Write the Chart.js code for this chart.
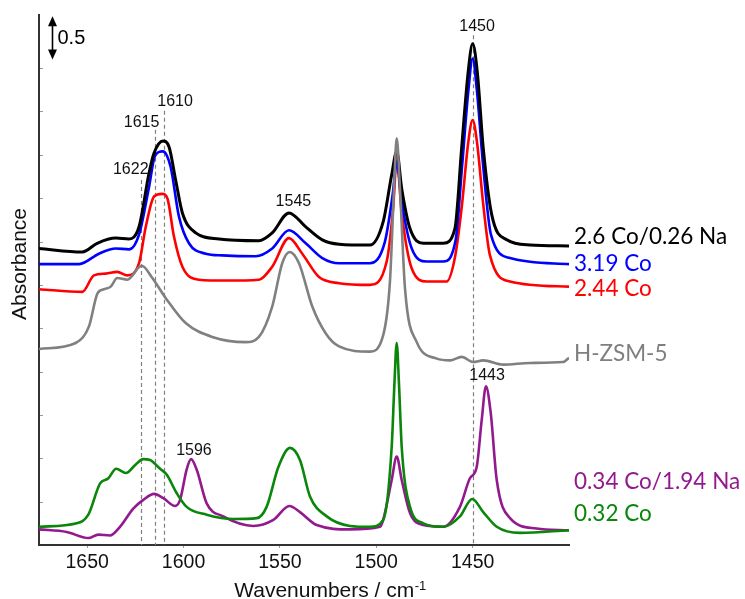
<!DOCTYPE html>
<html><head><meta charset="utf-8">
<script src="https://cdn.jsdelivr.net/npm/chart.js@4/dist/chart.umd.min.js"></script>
<style>html,body{margin:0;padding:0;background:#fff;}#wrap{position:relative;width:745px;height:599px;}</style>
</head><body><div id="wrap"><canvas id="c" width="745" height="599"></canvas></div>
<script>
// ---- data (wavenumber / cm-1, stacked absorbance) ----
const wnBlack = [1675,1652.5,1644.8,1635.2,1628.3,1623.1,1617.9,1615.3,1610.7,1607.5,1604.1,1600.6,1593.7,1581.6,1560.9,1554,1545.3,1536.6,1528,1519.3,1503.3,1496.4,1492,1489.4,1486.8,1482.5,1475.6,1465.2,1459.2,1455.7,1452.3,1450,1447.6,1444.5,1440.1,1432.3,1420.2,1400];
const absBlack = [3.42,3.38,3.48,3.54,3.53,3.67,4.29,4.52,4.66,4.59,4.21,3.83,3.60,3.53,3.51,3.60,3.83,3.67,3.52,3.47,3.46,3.73,4.27,4.54,4.11,3.65,3.48,3.48,3.65,4.58,5.46,5.78,5.46,4.58,3.81,3.52,3.46,3.45];

const wnBlue = [1675,1654.2,1643.9,1635.2,1628.3,1623.1,1617.9,1614.8,1610.7,1606.7,1602.4,1597.2,1588.5,1579.9,1562.6,1554,1545.3,1536.6,1528,1519.3,1503.3,1495.5,1491.5,1489.4,1486.8,1481.6,1473.8,1465.2,1458.8,1455.5,1452.3,1450,1447.7,1444.5,1440.5,1430.6,1400];
const absBlue = [3.24,3.24,3.36,3.42,3.41,3.58,4.13,4.49,4.54,4.36,3.79,3.48,3.36,3.34,3.33,3.42,3.63,3.48,3.31,3.25,3.25,3.50,4.04,4.42,3.96,3.42,3.27,3.27,3.52,4.36,5.22,5.61,5.22,4.36,3.58,3.31,3.24];

const wnRed = [1675,1652.5,1646.5,1640.4,1634.4,1629.2,1623.1,1619.6,1615.3,1611,1608.4,1605,1600.6,1592,1578.1,1560.9,1554,1545.3,1538.4,1529.7,1519.3,1503.3,1494.6,1491.2,1489.4,1486.8,1481.6,1473.8,1463.5,1459,1455.5,1452.3,1450,1447.7,1444.5,1441,1430.6,1400];
const absRed = [2.95,2.92,3.11,3.13,3.15,3.11,3.25,3.67,4.02,4.05,4.00,3.56,3.21,3.06,3.05,3.06,3.21,3.54,3.36,3.09,3.02,3.00,3.27,3.90,4.46,3.83,3.19,3.04,3.04,3.34,3.93,4.64,4.90,4.64,3.93,3.34,3.04,2.98];

const wnGray = [1675,1656,1649.1,1644.7,1641.3,1637.8,1634.4,1629.2,1621.7,1616.2,1609.3,1598.9,1585.1,1567.8,1560.9,1554,1548.8,1544.9,1540.1,1533.2,1526.2,1519.3,1503.3,1496.4,1492.9,1490.8,1489.4,1487.7,1485.1,1479,1468.6,1461.7,1455.7,1449.7,1444.5,1434.1,1420.2,1403.1,1400];
const absGray = [2.26,2.33,2.52,2.90,2.95,2.98,3.08,3.06,3.22,3.08,2.85,2.56,2.40,2.34,2.40,2.75,3.25,3.38,3.25,2.75,2.44,2.29,2.23,2.42,3.04,4.11,4.69,4.11,2.96,2.34,2.15,2.13,2.17,2.11,2.13,2.08,2.10,2.11,2.16];

const wnPurple = [1675,1660.6,1649.4,1644.2,1638.2,1633,1626.1,1620.9,1615.3,1610.5,1604.4,1601.8,1598.4,1596.1,1593.2,1588,1579.4,1563.8,1553.4,1545.1,1539.6,1530.9,1513.6,1498.1,1496.4,1492,1489.4,1486.8,1482.5,1475.6,1465.2,1456.6,1451.4,1447.9,1445.3,1443.1,1440.6,1437.5,1430.6,1416.8,1400];
const absPurple = [0.18,0.15,0.08,0.12,0.11,0.21,0.42,0.52,0.59,0.54,0.45,0.52,0.87,0.99,0.87,0.48,0.33,0.22,0.29,0.45,0.38,0.23,0.18,0.21,0.29,0.75,1.02,0.75,0.37,0.23,0.21,0.44,0.77,0.90,1.44,1.83,1.52,0.75,0.31,0.19,0.17];

const wnGreen = [1675,1655.4,1649.4,1643.3,1639,1635,1629.9,1625.2,1620.9,1617.4,1612.2,1608.7,1603.6,1598.4,1588,1574.2,1562,1556.9,1550.8,1544.8,1539.6,1534.4,1525.7,1513.6,1503.3,1496.4,1492,1490.6,1489.4,1488.2,1486.8,1482.5,1475.6,1465.2,1456.6,1450.2,1444.5,1437.5,1425.4,1400];
const absGreen = [0.21,0.25,0.35,0.71,0.77,0.88,0.83,0.92,0.99,0.98,0.88,0.81,0.60,0.44,0.35,0.30,0.31,0.44,0.90,1.12,0.98,0.56,0.33,0.22,0.21,0.29,1.13,1.85,2.33,1.85,1.13,0.44,0.25,0.21,0.33,0.53,0.38,0.21,0.14,0.17];

const seriesNames = ['2.6 Co/0.26 Na','3.19 Co','2.44 Co','H-ZSM-5','0.34 Co/1.94 Na','0.32 Co'];
const seriesColors = ['#000000','#0000ff','#ff0000','#808080','#921a8e','#0a860a'];
const seriesLabelAbs = [3.56,3.24,2.95,2.21,0.73,0.36];

const xTickValues = [1650,1600,1550,1500,1450];
const yTickValues = [0.5,1,1.5,2,2.5,3,3.5,4,4.5,5,5.5];

const dashWn = [1622,1615,1610,1450];
const dashTopAbs = [4.21,4.79,5.01,5.88];

const peakText = ['1622','1615','1610','1545','1450','1596','1443'];
const peakTextWn = [1627.4,1621.8,1604.4,1543,1447.7,1594.6,1442.5];
const peakTextAbs = [4.33,4.87,5.11,3.96,5.98,1.09,1.95];

const scaleBar = {wn:1668.2, from:5.6, to:6.1, text:'0.5'};

// ---- build datasets ----
function pts(w,a){return w.map((v,i)=>({x:v,y:a[i]}));}
const allWn=[wnBlack,wnBlue,wnRed,wnGray,wnPurple,wnGreen];
const allAbs=[absBlack,absBlue,absRed,absGray,absPurple,absGreen];
const orders=[3,4,5,2,1,0];
const datasets = seriesNames.map((n,i)=>({
  label:n, data:pts(allWn[i],allAbs[i]), borderColor:seriesColors[i],
  borderWidth: i===0?3:2.6, pointRadius:0, fill:false,
  cubicInterpolationMode:'monotone', order:orders[i]
}));

const FONT='"Liberation Sans", Arial, sans-serif';

const annot = {
  id:'annot',
  beforeDatasetsDraw(chart){
    const {ctx, scales:{x,y}, chartArea:ca} = chart;
    ctx.save();
    ctx.strokeStyle='#808080'; ctx.lineWidth=1.2; ctx.setLineDash([4,3]);
    dashWn.forEach((w,i)=>{
      const px=Math.round(x.getPixelForValue(w))+0.5;
      ctx.beginPath(); ctx.moveTo(px, y.getPixelForValue(dashTopAbs[i])); ctx.lineTo(px, ca.bottom); ctx.stroke();
    });
    ctx.restore();
  },
  afterDraw(chart){
    const {ctx, scales:{x,y}, chartArea:ca} = chart;
    ctx.save();
    // y tick marks inside
    ctx.strokeStyle='#999'; ctx.lineWidth=1;
    yTickValues.forEach(v=>{const py=Math.round(y.getPixelForValue(v))+0.5; ctx.beginPath(); ctx.moveTo(ca.left+1,py); ctx.lineTo(ca.left+4,py); ctx.stroke();});
    // scale bar
    const ax=Math.round(x.getPixelForValue(scaleBar.wn))+0.5;
    const yt=y.getPixelForValue(scaleBar.to), yb=y.getPixelForValue(scaleBar.from);
    ctx.strokeStyle='#000'; ctx.fillStyle='#000'; ctx.lineWidth=1.6;
    ctx.beginPath(); ctx.moveTo(ax,yt+6); ctx.lineTo(ax,yb-6); ctx.stroke();
    ctx.beginPath(); ctx.moveTo(ax,yt); ctx.lineTo(ax-4.5,yt+10); ctx.lineTo(ax+4.5,yt+10); ctx.closePath(); ctx.fill();
    ctx.beginPath(); ctx.moveTo(ax,yb); ctx.lineTo(ax-4.5,yb-10); ctx.lineTo(ax+4.5,yb-10); ctx.closePath(); ctx.fill();
    ctx.font='20px '+FONT; ctx.textAlign='left'; ctx.textBaseline='middle';
    ctx.fillText(scaleBar.text, ax+5, (yt+yb)/2+1);
    // peak labels
    ctx.font='16px '+FONT; ctx.textAlign='center'; ctx.textBaseline='middle'; ctx.fillStyle='#111';
    peakText.forEach((t,i)=>ctx.fillText(t, x.getPixelForValue(peakTextWn[i]), y.getPixelForValue(peakTextAbs[i])));
    // series labels
    ctx.font='22.5px Lato, "Open Sans", sans-serif'; ctx.textAlign='left';
    seriesNames.forEach((n,i)=>{ctx.fillStyle=seriesColors[i]==='#808080'?'#7f7f7f':seriesColors[i]; ctx.fillText(n, ca.right+5, y.getPixelForValue(seriesLabelAbs[i]));});
    // axis titles
    ctx.fillStyle='#111';
    ctx.font='21px '+FONT; ctx.textAlign='left'; ctx.textBaseline='alphabetic';
    const t1='Wavenumbers / cm', t2='-1';
    const w1=ctx.measureText(t1).width; ctx.font='13px '+FONT; const w2=ctx.measureText(t2).width;
    const sx=330-(w1+w2)/2;
    ctx.font='21px '+FONT; ctx.fillText(t1,sx,596.5);
    ctx.font='13px '+FONT; ctx.fillText(t2,sx+w1+0.5,589.5);
    ctx.translate(20,264); ctx.rotate(-Math.PI/2);
    ctx.font='21px '+FONT; ctx.textAlign='center'; ctx.textBaseline='middle';
    ctx.fillText('Absorbance',0,0);
    ctx.restore();
  }
};

new Chart(document.getElementById('c'),{
  type:'line',
  data:{datasets},
  options:{
    responsive:false, animation:false, devicePixelRatio:1,
    layout:{padding:{left:0,top:15,right:176,bottom:0}},
    plugins:{legend:{display:false},tooltip:{enabled:false}},
    scales:{
      x:{type:'linear', reverse:true, min:1400, max:1675,
         afterBuildTicks:s=>{s.ticks=xTickValues.map(v=>({value:v}));},
         afterFit:s=>{s.height=54;},
         grid:{display:true, drawOnChartArea:false, drawTicks:true, tickLength:3, color:'#999'},
         border:{display:true, color:'#333', width:2},
         ticks:{font:{family:FONT,size:19.5}, color:'#111', padding:3, maxRotation:0, autoSkip:false,
                callback:v=>String(v)}},
      y:{type:'linear', min:0, max:6.113,
         afterFit:s=>{s.width=39;},
         grid:{display:false},
         border:{display:true, color:'#333', width:2},
         ticks:{display:false}}
    }
  },
  plugins:[annot]
});
</script></body></html>
